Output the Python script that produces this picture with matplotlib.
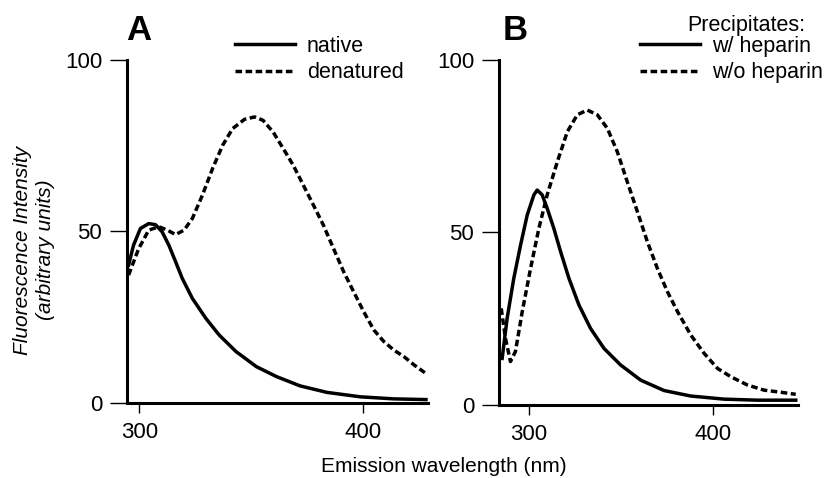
import matplotlib
matplotlib.use("Agg")
import matplotlib.pyplot as plt

plt.rcParams['font.family'] = ['Liberation Sans', 'DejaVu Sans']

# Panel A: native vs denatured
wl_native = [295.2, 297.4, 300.5, 304.2, 307.2, 310.2, 313.2, 316.2, 319.2, 323.7,
             329.7, 335.7, 343.2, 352.3, 361.3, 371.8, 383.8, 398.8, 413.8, 428.1]
native = [40.2, 46.0, 50.9, 52.3, 52.0, 49.9, 46.0, 41.2, 36.3, 30.5,
          24.7, 19.8, 15.0, 10.6, 7.7, 5.0, 3.1, 1.8, 1.2, 1.0]

wl_denat = [295.2, 299.7, 304.2, 308.7, 312.5, 316.2, 320.0, 323.7, 328.2, 332.7,
            337.2, 341.7, 347.0, 351.5, 355.3, 359.8, 364.3, 368.8, 373.3, 377.8,
            382.3, 386.8, 391.3, 395.8, 400.3, 404.8, 409.3, 413.8, 418.3, 422.8, 428.1]
denatured = [37.3, 45.0, 50.4, 51.4, 50.4, 49.1, 50.4, 53.8, 60.6, 68.3,
             75.1, 80.0, 82.7, 83.4, 82.4, 79.0, 74.2, 69.3, 63.5, 57.7,
             51.8, 45.0, 38.3, 32.4, 26.6, 21.3, 17.9, 15.4, 13.5, 11.1, 8.6]

# Panel B: precipitates with / without heparin
wl_hep = [285.7, 288.4, 292.0, 295.7, 299.3, 302.9, 304.7, 307.4, 310.1, 313.7,
          317.4, 321.9, 327.3, 333.6, 340.9, 349.9, 360.8, 373.4, 387.9, 406.0,
          424.0, 444.8]
with_heparin = [13.5, 25.1, 36.7, 46.4, 55.1, 60.9, 62.3, 60.9, 57.0, 51.2,
                44.4, 36.7, 29.0, 22.2, 16.4, 11.6, 7.2, 4.2, 2.6, 1.7,
                1.4, 1.4]

wl_nohep = [285.2, 287.5, 290.2, 292.9, 296.6, 301.1, 305.6, 310.1, 315.6, 321.0,
            326.4, 331.8, 337.3, 342.7, 348.1, 353.5, 359.0, 364.4, 369.8, 375.2,
            380.7, 387.9, 395.1, 402.4, 409.6, 418.6, 427.7, 436.7, 444.8]
without_heparin = [28.0, 19.3, 12.6, 15.5, 27.1, 39.6, 51.2, 60.9, 70.5, 79.2,
                   84.1, 85.5, 84.1, 80.2, 73.4, 64.7, 56.0, 47.3, 39.6, 32.9,
                   27.1, 20.3, 15.0, 10.6, 8.2, 5.8, 4.3, 3.7, 3.1]

dash = (0, (1.9, 1.0))
lw = 2.5

fig = plt.figure(figsize=(8.27, 4.78), dpi=100)
axA = fig.add_axes([0.1536, 0.1569, 0.3639, 0.7176])
axB = fig.add_axes([0.6034, 0.1527, 0.3615, 0.7218])


def style(ax, xlim):
    ax.set_xlim(*xlim)
    ax.set_ylim(0, 100)
    for s in ['top', 'right']:
        ax.spines[s].set_visible(False)
    for s in ['left', 'bottom']:
        ax.spines[s].set_linewidth(2.2)
    ax.set_xticks([300, 400])
    ax.set_yticks([0, 50, 100])
    ax.tick_params(axis='y', length=12, width=1.0, pad=6, labelsize=16)
    ax.tick_params(axis='x', length=7, width=1.0, pad=7, labelsize=16)
    ax.patch.set_visible(False)


leg_kw = dict(loc='upper left', bbox_transform=fig.transFigure, frameon=False,
              fontsize=15.5, handlelength=2.8, handletextpad=0.55,
              labelspacing=0.25, borderpad=0, borderaxespad=0)

axA.plot(wl_native, native, color='black', lw=lw, label='native',
         clip_on=False, solid_joinstyle='round')
axA.plot(wl_denat, denatured, color='black', lw=lw, ls=dash, label='denatured',
         clip_on=False)
style(axA, (294.5, 429))
axA.legend(bbox_to_anchor=(0.284, 0.925), **leg_kw)

axB.plot(wl_hep, with_heparin, color='black', lw=lw, label='w/ heparin',
         clip_on=False, solid_joinstyle='round')
axB.plot(wl_nohep, without_heparin, color='black', lw=lw, ls=dash, label='w/o heparin',
         clip_on=False)
style(axB, (284, 446))
axB.legend(bbox_to_anchor=(0.774, 0.925), **leg_kw)
fig.text(687 / 827, 1 - 31 / 478, 'Precipitates:', fontsize=15.5, ha='left', va='baseline')

fig.text(126 / 827, 1 - 40 / 478, 'A', fontsize=25, fontweight='bold', ha='left', va='baseline')
fig.text(503 / 827, 1 - 40 / 478, 'B', fontsize=25, fontweight='bold', ha='left', va='baseline')

fig.text(34 / 827, 0.477, 'Fluorescence Intensity\n(arbitrary units)', rotation=90,
         fontsize=15, style='italic', ha='center', va='center', multialignment='center',
         linespacing=1.25)
fig.text(444 / 827, 1 - 466 / 478, 'Emission wavelength (nm)', fontsize=15,
         ha='center', va='center')

fig.savefig('out.png', dpi=100)
